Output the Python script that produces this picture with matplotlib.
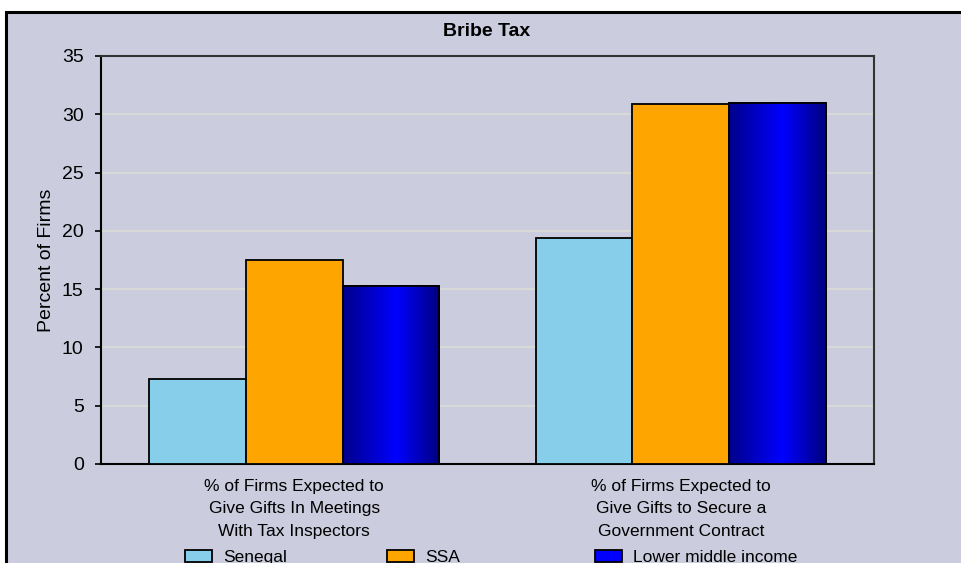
import matplotlib
matplotlib.use("Agg")
import matplotlib.pyplot as plt
import numpy as np
from matplotlib.patches import Rectangle
from matplotlib.colors import LinearSegmentedColormap

categories = ["% of Firms Expected to\nGive Gifts In Meetings\nWith Tax Inspectors",
              "% of Firms Expected to\nGive Gifts to Secure a\nGovernment Contract"]
series_names = ["Senegal", "SSA", "Lower middle income"]
senegal = [7.3, 19.4]
ssa = [17.5, 30.9]
lmi = [15.3, 31.0]
yticks = [0, 5, 10, 15, 20, 25, 30, 35]

FONT = ['Liberation Sans', 'DejaVu Sans']
plt.rcParams['font.family'] = FONT

BG = '#CBCCDD'
W, H = 961, 563
fig = plt.figure(figsize=(W/100, H/100), dpi=100, facecolor='white')

# frame / background
frame = Rectangle((6/W, -0.05), 1.0, (H-12)/H + 0.05, transform=fig.transFigure,
                  facecolor=BG, edgecolor='black', linewidth=2.2, zorder=-10)
fig.patches.append(frame)

ax = fig.add_axes([101/W, (H-464)/H, (874-101)/W, (464-56)/H])
ax.set_facecolor(BG)
ax.set_xlim(-0.5, 1.5)
ax.set_ylim(0, 35)
ax.set_yticks(yticks)
ax.yaxis.grid(True, color='#DCDCD6', linewidth=1.2)
ax.set_axisbelow(True)

x = np.arange(len(categories))
w = 0.25
colors = ['#87CEEB', '#FFA500', '#0000FF']
data = [senegal, ssa, lmi]
bars_all = []
for i, (vals, c) in enumerate(zip(data, colors)):
    bars = ax.bar(x + (i - 1) * w, vals, w, color=c, edgecolor='black', linewidth=1.3, zorder=3)
    bars_all.append(bars)

# gradient fill for lower middle income bars
cmap = LinearSegmentedColormap.from_list('bluegrad', [(0, '#00008A'), (0.55, '#0000FF'), (1, '#000080')])
grad = np.linspace(0, 1, 256).reshape(1, -1)
for b in bars_all[2]:
    x0, y0 = b.get_x(), b.get_y()
    bw, bh = b.get_width(), b.get_height()
    im = ax.imshow(grad, cmap=cmap, aspect='auto', extent=(x0, x0 + bw, y0, y0 + bh),
                   zorder=3.5, interpolation='bilinear')
    im.set_clip_path(b)
    ax.add_patch(Rectangle((x0, y0), bw, bh, fill=False, edgecolor='black', linewidth=1.3, zorder=4))
ax.set_xlim(-0.5, 1.5)
ax.set_ylim(0, 35)

ax.set_xticks(x)
ax.set_xticklabels(categories, fontsize=12.5, linespacing=1.6)
ax.tick_params(axis='x', length=0, pad=11)
ax.tick_params(axis='y', length=4.5, width=1.2, labelsize=14, pad=8, direction='out')
for s in ax.spines.values():
    s.set_linewidth(1.5)
    s.set_color('black')
ax.spines['top'].set_color('#333333')
ax.spines['right'].set_color('#333333')

ax.set_ylabel('Percent of Firms', fontsize=14, labelpad=5)
fig.text(487/W, 1 - 31/H, 'Bribe Tax', ha='center', va='center', fontsize=14, fontweight='bold')

# legend (bottom, partly cut off as in the original)
leg_x = [185, 387, 595]
for name, c, lx in zip(series_names, colors, leg_x):
    r = Rectangle((lx/W, 1 - 562/H), 27/W, 12/H, transform=fig.transFigure,
                  facecolor=c, edgecolor='black', linewidth=1.3)
    fig.patches.append(r)
    fig.text((lx + 38)/W, 1 - 562/H, name, ha='left', va='baseline', fontsize=12.5)

fig.savefig('out.png', dpi=100, facecolor='white')
